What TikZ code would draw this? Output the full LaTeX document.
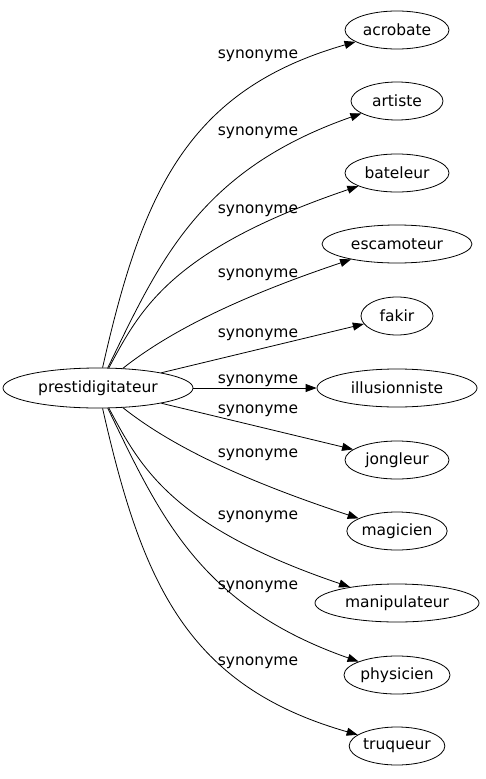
\documentclass[tikz,border=0pt]{standalone}
\usepackage{fontspec}
\setmainfont{DejaVu Sans}
\usetikzlibrary{arrows.meta,shapes.geometric}
\begin{document}
\begin{tikzpicture}[x=1pt,y=-1pt,
  word/.style={draw,ellipse,inner sep=0pt,line width=0.8pt,minimum height=38pt,font=\fontsize{15.5}{18}\selectfont},
  lbl/.style={inner sep=0pt,font=\fontsize{15.5}{18}\selectfont},
  edge/.style={draw,line width=0.8pt,-{Triangle[length=11pt,width=8pt]}}]
\useasboundingbox (0,0) rectangle (486,779);
\node[word,minimum width=190pt,minimum height=40pt] (p) at (98,388) {prestidigitateur};
\node[word,minimum width=104pt] (a) at (397,30) {acrobate};
\node[word,minimum width=92pt] (b) at (397,101) {artiste};
\node[word,minimum width=104pt] (c) at (397,173) {bateleur};
\node[word,minimum width=150pt] (d) at (397,244) {escamoteur};
\node[word,minimum width=72pt] (e) at (397,316) {fakir};
\node[word,minimum width=160pt] (f) at (397,388) {illusionniste};
\node[word,minimum width=104pt] (g) at (397,460) {jongleur};
\node[word,minimum width=100pt] (h) at (397,531) {magicien};
\node[word,minimum width=164pt] (i) at (397,603) {manipulateur};
\node[word,minimum width=106pt] (j) at (397,675) {physicien};
\node[word,minimum width=92pt] (k) at (397,746) {truqueur};
\node[lbl] (la) at (258,56) {synonyme};
\node[lbl] (lb) at (258,133) {synonyme};
\node[lbl] (lc) at (258,211) {synonyme};
\node[lbl] (ld) at (258,275) {synonyme};
\node[lbl] (le) at (258,335) {synonyme};
\node[lbl] (lf) at (258,381) {synonyme};
\node[lbl] (lg) at (258,411) {synonyme};
\node[lbl] (lh) at (258,455) {synonyme};
\node[lbl] (li) at (258,517) {synonyme};
\node[lbl] (lj) at (258,587) {synonyme};
\node[lbl] (lk) at (258,663) {synonyme};
\draw[edge] (p) .. controls (142,193) and (187,90) .. (a);
\draw[edge] (p) .. controls (160,260) and (200,170) .. (b);
\draw[edge] (p) .. controls (140,310) and (170,250) .. (c);
\draw[edge] (p) .. controls (165,335) and (230,300) .. (d);
\draw[edge] (p) -- (e);
\draw[edge] (p) -- (f);
\draw[edge] (p) -- (g);
\draw[edge] (p) .. controls (165,441) and (230,476) .. (h);
\draw[edge] (p) .. controls (140,466) and (170,526) .. (i);
\draw[edge] (p) .. controls (160,516) and (200,606) .. (j);
\draw[edge] (p) .. controls (142,583) and (187,686) .. (k);
\end{tikzpicture}
\end{document}
